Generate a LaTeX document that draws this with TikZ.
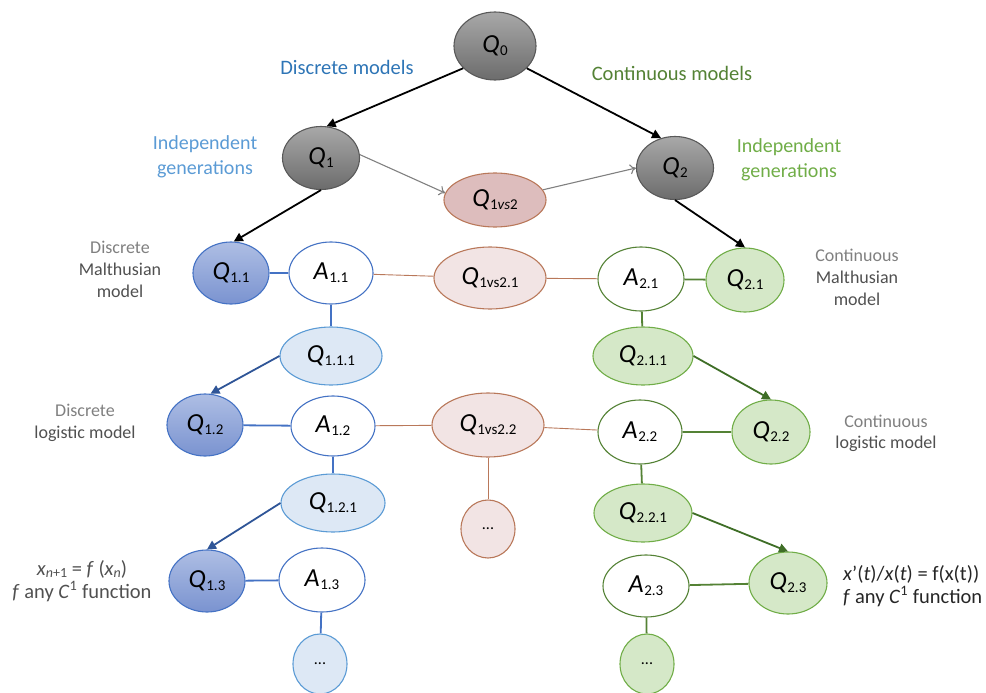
\documentclass[tikz,border=0pt]{standalone}
\usepackage{fontspec}
\setmainfont{Carlito}
\usetikzlibrary{shapes.geometric,arrows.meta}
\definecolor{gborder}{HTML}{595959}
\definecolor{gtop}{HTML}{A8A8A8}
\definecolor{gbot}{HTML}{6C6C6C}
\definecolor{bborder}{HTML}{4472C4}
\definecolor{btop}{HTML}{AEBEE4}
\definecolor{bbot}{HTML}{7A93D0}
\definecolor{lbfill}{HTML}{DDE8F5}
\definecolor{lbborder}{HTML}{5B9BD5}
\definecolor{gnborder}{HTML}{548235}
\definecolor{gnfill}{HTML}{D5E8C8}
\definecolor{gnlight}{HTML}{70AD47}
\definecolor{brborder}{HTML}{B9785A}
\definecolor{pkfill}{HTML}{F2E4E4}
\definecolor{pkdark}{HTML}{DDBDBD}
\definecolor{barrow}{HTML}{2F5597}
\definecolor{garrow}{HTML}{3F6E27}
\definecolor{txtblue}{HTML}{2E75B6}
\definecolor{txtlblue}{HTML}{5B9BD5}
\definecolor{txtgreen}{HTML}{548235}
\definecolor{txtlgreen}{HTML}{70AD47}
\definecolor{txtgray}{HTML}{808080}
\definecolor{txtdgray}{HTML}{505050}
\newcommand\Qs[1]{\textit{Q}\kern0.5pt\raisebox{-3pt}{\fontsize{15}{15}\selectfont #1}}
\newcommand\As[1]{\textit{A}\kern0.5pt\raisebox{-3pt}{\fontsize{15}{15}\selectfont #1}}
\tikzset{
  base/.style={ellipse, inner sep=0pt, line width=1.1pt, font=\fontsize{26}{26}\selectfont},
  sz/.style 2 args={minimum width=#1pt, minimum height=#2pt},
  graynode/.style={base, draw=gborder, top color=gtop, bottom color=gbot},
  bluenode/.style={base, draw=bborder, top color=btop, bottom color=bbot},
  bluewhite/.style={base, draw=bborder, fill=white},
  bluelight/.style={base, draw=lbborder, fill=lbfill},
  greennode/.style={base, draw=gnlight, fill=gnfill},
  greenwhite/.style={base, draw=gnborder, fill=white},
  pinknode/.style={base, draw=brborder, fill=pkfill},
  pinkdark/.style={base, draw=brborder, fill=pkdark},
  dotsnode/.style={font=\fontsize{16}{16}\selectfont},
  blkarrow/.style={line width=1.8pt, -{Triangle[length=9pt,width=9pt]}},
  grayarrow/.style={line width=1.1pt, draw=gray, -{To[length=6pt,width=10pt]}},
  bluearrow/.style={line width=1.8pt, draw=barrow, -{Triangle[length=9pt,width=9pt]}, color=barrow},
  greenarrow/.style={line width=1.8pt, draw=garrow, -{Triangle[length=9pt,width=9pt]}, color=garrow},
  blueline/.style={line width=1.8pt, draw=bborder},
  greenline/.style={line width=1.8pt, draw=gnborder},
  brownline/.style={line width=0.9pt, draw=brborder},
  lbl/.style={align=center, inner sep=0pt},
}
\begin{document}
\begin{tikzpicture}[x=1pt,y=-1pt]
\useasboundingbox (0,0) rectangle (986,693);
% top level
\node[graynode, sz={82}{68}] (Q0) at (495,46) {\Qs{0}};
\node[graynode, sz={77}{63}] (Q1) at (321,158) {\Qs{1}};
\node[graynode, sz={77}{63}] (Q2) at (675,168) {\Qs{2}};
\node[pinkdark, sz={102}{54}] (Q1vs2) at (495,200) {\Qs{1\textit{vs}2}};
% discrete side
\node[bluenode, sz={76}{62}] (Q11) at (231,273) {\Qs{1.1}};
\node[bluewhite, sz={84}{62}] (A11) at (331,273) {\As{1.1}};
\node[bluelight, sz={102}{58}] (Q111) at (331,356) {\Qs{1.1.1}};
\node[bluenode, sz={76}{62}] (Q12) at (205,425) {\Qs{1.2}};
\node[bluewhite, sz={84}{60}] (A12) at (333,426) {\As{1.2}};
\node[bluelight, sz={104}{58}] (Q121) at (333,503) {\Qs{1.2.1}};
\node[bluenode, sz={76}{62}] (Q13) at (207,581) {\Qs{1.3}};
\node[bluewhite, sz={86}{64}] (A13) at (322,580) {\As{1.3}};
\node[bluelight, dotsnode, sz={54}{60}] (D1) at (320,664) {...};
% middle
\node[pinknode, sz={112}{62}] (Q1vs21) at (490,278) {\Qs{1vs2.1}};
\node[pinknode, sz={112}{64}] (Q1vs22) at (488,425) {\Qs{1vs2.2}};
\node[pinknode, dotsnode, sz={54}{58}] (DM) at (488,529) {...};
% continuous side
\node[greenwhite, sz={86}{64}] (A21) at (641,279) {\As{2.1}};
\node[greennode, sz={78}{64}] (Q21) at (745,280) {\Qs{2.1}};
\node[greennode, sz={100}{58}] (Q211) at (643,356) {\Qs{2.1.1}};
\node[greenwhite, sz={84}{64}] (A22) at (640,432) {\As{2.2}};
\node[greennode, sz={78}{64}] (Q22) at (771,432) {\Qs{2.2}};
\node[greennode, sz={98}{58}] (Q221) at (643,513) {\Qs{2.2.1}};
\node[greenwhite, sz={86}{62}] (A23) at (646,586) {\As{2.3}};
\node[greennode, sz={78}{62}] (Q23) at (788,583) {\Qs{2.3}};
\node[greennode, dotsnode, sz={54}{60}] (D2) at (647,664) {...};
% arrows
\draw[blkarrow] (Q0.215) -- (Q1.80);
\draw[blkarrow] (Q0.325) -- (Q2.115);
\draw[grayarrow] (Q1.5) -- (Q1vs2.172);
\draw[grayarrow] (Q1vs2.12) -- (Q2.180);
\draw[blkarrow] (Q1.south) -- (Q11.85);
\draw[blkarrow] (Q2.south) -- (Q21.north);
\draw[bluearrow] (Q111.west) -- (Q12.80);
\draw[greenarrow] (Q211.east) -- (Q22.north);
\draw[bluearrow] (Q121.west) -- (Q13.north);
\draw[greenarrow] (Q221.east) -- (Q23.north);
% lines
\draw[blueline] (Q11) -- (A11);
\draw[brownline] (A11) -- (Q1vs21);
\draw[brownline] (Q1vs21) -- (A21);
\draw[greenline] (A21) -- (Q21);
\draw[blueline] (A11) -- (Q111);
\draw[greenline] (A21) -- (Q211);
\draw[blueline] (Q12) -- (A12);
\draw[brownline] (A12) -- (Q1vs22);
\draw[brownline] (Q1vs22) -- (A22);
\draw[greenline] (A22) -- (Q22);
\draw[blueline] (A12) -- (Q121);
\draw[greenline] (A22) -- (Q221);
\draw[brownline] (Q1vs22) -- (DM);
\draw[blueline] (Q13) -- (A13);
\draw[greenline] (A23) -- (Q23);
\draw[blueline] (A13) -- (D1);
\draw[greenline] (A23) -- (D2);
% labels
\node[lbl, text=txtblue, font=\fontsize{20.5}{24}\selectfont] (tdm) at (347,67) {Discrete models};
\node[lbl, text=txtgreen, font=\fontsize{20.5}{24}\selectfont] (tcm) at (672,73) {Continuous models};
\node[lbl, text=txtlblue, font=\fontsize{20}{25}\selectfont] (tig1) at (205,157) {Independent\\generations};
\node[lbl, text=txtlgreen, font=\fontsize{20}{25}\selectfont] (tig2) at (789,160) {Independent\\generations};
\node[lbl, font=\fontsize{18}{22}\selectfont] (tdmm) at (120,269) {\textcolor{txtgray}{Discrete}\\\textcolor{txtdgray}{Malthusian}\\\textcolor{txtdgray}{model}};
\node[lbl, font=\fontsize{18}{22}\selectfont] (tdlm) at (85,423) {\textcolor{txtgray}{Discrete}\\\textcolor{txtdgray}{logistic model}};
\node[lbl, font=\fontsize{18}{22}\selectfont] (tcmm) at (857,277) {\textcolor{txtgray}{Continuous}\\\textcolor{txtdgray}{Malthusian}\\\textcolor{txtdgray}{model}};
\node[lbl, font=\fontsize{18}{21}\selectfont] (tclm) at (886,433) {\textcolor{txtgray}{Continuous}\\\textcolor{txtdgray}{logistic model}};
\node[lbl, text=txtdgray, font=\fontsize{20.5}{23}\selectfont] (tfl) at (82,581) {\textit{x}\raisebox{-2.5pt}{\fontsize{14}{14}\selectfont\textit{n}+1} = \textit{f} (\textit{x}\raisebox{-2.5pt}{\fontsize{14}{14}\selectfont\textit{n}})\\\textit{f} any \textit{C}\textsuperscript{1} function};
\node[lbl, align=left, anchor=west, text=black!85, font=\fontsize{20.5}{23}\selectfont] (tfr) at (843,586) {\textit{x}’(\textit{t})/\textit{x}(\textit{t}) = f(x(t))\\\textit{f} any \textit{C}\textsuperscript{1} function};
\end{tikzpicture}
\end{document}
